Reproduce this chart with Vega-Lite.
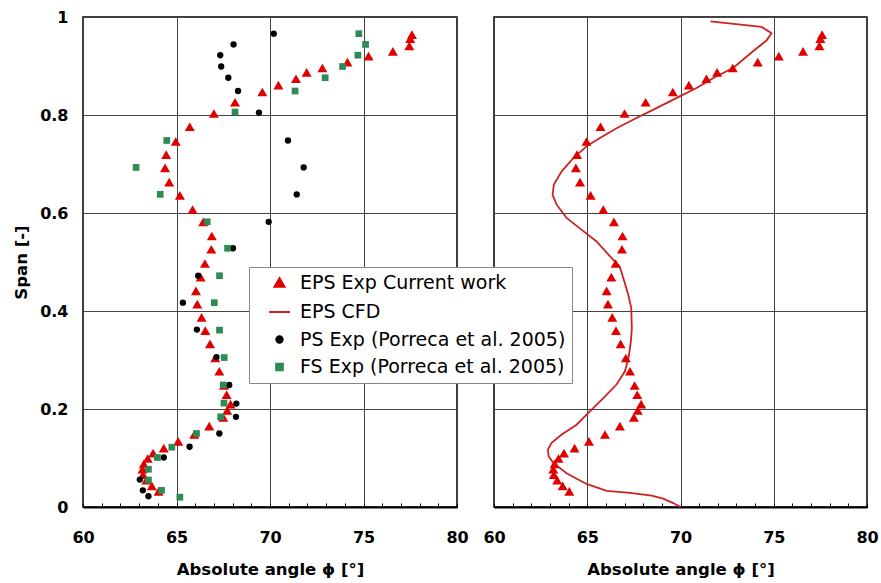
{
  "$schema": "https://vega.github.io/schema/vega-lite/v6.json",
  "background": "white",
  "padding": {"left": 12, "top": 8, "right": 5, "bottom": 5},
  "spacing": 37,
  "bounds": "flush",
  "datasets": {
    "pts": [
      {"series": "EPS Exp Current work", "angle": 77.59, "span": 0.964},
      {"series": "EPS Exp Current work", "angle": 77.5, "span": 0.956},
      {"series": "EPS Exp Current work", "angle": 77.45, "span": 0.941},
      {"series": "EPS Exp Current work", "angle": 76.57, "span": 0.930},
      {"series": "EPS Exp Current work", "angle": 75.27, "span": 0.920},
      {"series": "EPS Exp Current work", "angle": 74.14, "span": 0.908},
      {"series": "EPS Exp Current work", "angle": 72.8, "span": 0.896},
      {"series": "EPS Exp Current work", "angle": 71.96, "span": 0.887},
      {"series": "EPS Exp Current work", "angle": 71.39, "span": 0.874},
      {"series": "EPS Exp Current work", "angle": 70.45, "span": 0.861},
      {"series": "EPS Exp Current work", "angle": 69.59, "span": 0.847},
      {"series": "EPS Exp Current work", "angle": 68.13, "span": 0.826},
      {"series": "EPS Exp Current work", "angle": 67.0, "span": 0.803},
      {"series": "EPS Exp Current work", "angle": 65.71, "span": 0.776},
      {"series": "EPS Exp Current work", "angle": 64.96, "span": 0.746},
      {"series": "EPS Exp Current work", "angle": 64.45, "span": 0.719},
      {"series": "EPS Exp Current work", "angle": 64.39, "span": 0.692},
      {"series": "EPS Exp Current work", "angle": 64.61, "span": 0.663},
      {"series": "EPS Exp Current work", "angle": 65.18, "span": 0.636},
      {"series": "EPS Exp Current work", "angle": 65.86, "span": 0.607},
      {"series": "EPS Exp Current work", "angle": 66.43, "span": 0.582},
      {"series": "EPS Exp Current work", "angle": 66.89, "span": 0.553},
      {"series": "EPS Exp Current work", "angle": 66.86, "span": 0.526},
      {"series": "EPS Exp Current work", "angle": 66.52, "span": 0.497},
      {"series": "EPS Exp Current work", "angle": 66.29, "span": 0.469},
      {"series": "EPS Exp Current work", "angle": 66.04, "span": 0.441},
      {"series": "EPS Exp Current work", "angle": 66.11, "span": 0.414},
      {"series": "EPS Exp Current work", "angle": 66.34, "span": 0.387},
      {"series": "EPS Exp Current work", "angle": 66.54, "span": 0.360},
      {"series": "EPS Exp Current work", "angle": 66.79, "span": 0.333},
      {"series": "EPS Exp Current work", "angle": 67.07, "span": 0.304},
      {"series": "EPS Exp Current work", "angle": 67.29, "span": 0.277},
      {"series": "EPS Exp Current work", "angle": 67.54, "span": 0.248},
      {"series": "EPS Exp Current work", "angle": 67.68, "span": 0.229},
      {"series": "EPS Exp Current work", "angle": 67.89, "span": 0.210},
      {"series": "EPS Exp Current work", "angle": 67.71, "span": 0.197},
      {"series": "EPS Exp Current work", "angle": 67.5, "span": 0.183},
      {"series": "EPS Exp Current work", "angle": 66.75, "span": 0.165},
      {"series": "EPS Exp Current work", "angle": 65.95, "span": 0.148},
      {"series": "EPS Exp Current work", "angle": 65.09, "span": 0.134},
      {"series": "EPS Exp Current work", "angle": 64.32, "span": 0.120},
      {"series": "EPS Exp Current work", "angle": 63.75, "span": 0.110},
      {"series": "EPS Exp Current work", "angle": 63.46, "span": 0.099},
      {"series": "EPS Exp Current work", "angle": 63.25, "span": 0.088},
      {"series": "EPS Exp Current work", "angle": 63.18, "span": 0.077},
      {"series": "EPS Exp Current work", "angle": 63.21, "span": 0.066},
      {"series": "EPS Exp Current work", "angle": 63.39, "span": 0.055},
      {"series": "EPS Exp Current work", "angle": 63.68, "span": 0.043},
      {"series": "EPS Exp Current work", "angle": 64.04, "span": 0.032},
      {"series": "PS Exp (Porreca et al. 2005)", "angle": 70.2, "span": 0.966},
      {"series": "PS Exp (Porreca et al. 2005)", "angle": 68.05, "span": 0.944},
      {"series": "PS Exp (Porreca et al. 2005)", "angle": 67.34, "span": 0.922},
      {"series": "PS Exp (Porreca et al. 2005)", "angle": 67.39, "span": 0.899},
      {"series": "PS Exp (Porreca et al. 2005)", "angle": 67.77, "span": 0.876},
      {"series": "PS Exp (Porreca et al. 2005)", "angle": 68.29, "span": 0.849},
      {"series": "PS Exp (Porreca et al. 2005)", "angle": 69.41, "span": 0.805},
      {"series": "PS Exp (Porreca et al. 2005)", "angle": 70.96, "span": 0.748},
      {"series": "PS Exp (Porreca et al. 2005)", "angle": 71.8, "span": 0.693},
      {"series": "PS Exp (Porreca et al. 2005)", "angle": 71.43, "span": 0.638},
      {"series": "PS Exp (Porreca et al. 2005)", "angle": 69.93, "span": 0.582},
      {"series": "PS Exp (Porreca et al. 2005)", "angle": 68.02, "span": 0.528},
      {"series": "PS Exp (Porreca et al. 2005)", "angle": 66.16, "span": 0.472},
      {"series": "PS Exp (Porreca et al. 2005)", "angle": 65.34, "span": 0.417},
      {"series": "PS Exp (Porreca et al. 2005)", "angle": 66.09, "span": 0.362},
      {"series": "PS Exp (Porreca et al. 2005)", "angle": 67.14, "span": 0.306},
      {"series": "PS Exp (Porreca et al. 2005)", "angle": 67.82, "span": 0.249},
      {"series": "PS Exp (Porreca et al. 2005)", "angle": 68.2, "span": 0.211},
      {"series": "PS Exp (Porreca et al. 2005)", "angle": 68.18, "span": 0.184},
      {"series": "PS Exp (Porreca et al. 2005)", "angle": 67.29, "span": 0.150},
      {"series": "PS Exp (Porreca et al. 2005)", "angle": 65.7, "span": 0.123},
      {"series": "PS Exp (Porreca et al. 2005)", "angle": 64.32, "span": 0.101},
      {"series": "PS Exp (Porreca et al. 2005)", "angle": 63.04, "span": 0.056},
      {"series": "PS Exp (Porreca et al. 2005)", "angle": 63.2, "span": 0.034},
      {"series": "PS Exp (Porreca et al. 2005)", "angle": 63.5, "span": 0.022},
      {"series": "FS Exp (Porreca et al. 2005)", "angle": 74.75, "span": 0.966},
      {"series": "FS Exp (Porreca et al. 2005)", "angle": 75.11, "span": 0.944},
      {"series": "FS Exp (Porreca et al. 2005)", "angle": 74.7, "span": 0.922},
      {"series": "FS Exp (Porreca et al. 2005)", "angle": 73.88, "span": 0.899},
      {"series": "FS Exp (Porreca et al. 2005)", "angle": 72.95, "span": 0.876},
      {"series": "FS Exp (Porreca et al. 2005)", "angle": 71.34, "span": 0.849},
      {"series": "FS Exp (Porreca et al. 2005)", "angle": 68.13, "span": 0.806},
      {"series": "FS Exp (Porreca et al. 2005)", "angle": 64.48, "span": 0.748},
      {"series": "FS Exp (Porreca et al. 2005)", "angle": 62.84, "span": 0.693},
      {"series": "FS Exp (Porreca et al. 2005)", "angle": 64.13, "span": 0.638},
      {"series": "FS Exp (Porreca et al. 2005)", "angle": 66.64, "span": 0.582},
      {"series": "FS Exp (Porreca et al. 2005)", "angle": 67.73, "span": 0.528},
      {"series": "FS Exp (Porreca et al. 2005)", "angle": 67.3, "span": 0.472},
      {"series": "FS Exp (Porreca et al. 2005)", "angle": 67.02, "span": 0.417},
      {"series": "FS Exp (Porreca et al. 2005)", "angle": 67.3, "span": 0.361},
      {"series": "FS Exp (Porreca et al. 2005)", "angle": 67.55, "span": 0.305},
      {"series": "FS Exp (Porreca et al. 2005)", "angle": 67.5, "span": 0.249},
      {"series": "FS Exp (Porreca et al. 2005)", "angle": 67.54, "span": 0.212},
      {"series": "FS Exp (Porreca et al. 2005)", "angle": 67.36, "span": 0.184},
      {"series": "FS Exp (Porreca et al. 2005)", "angle": 66.07, "span": 0.150},
      {"series": "FS Exp (Porreca et al. 2005)", "angle": 64.75, "span": 0.122},
      {"series": "FS Exp (Porreca et al. 2005)", "angle": 63.98, "span": 0.101},
      {"series": "FS Exp (Porreca et al. 2005)", "angle": 63.5, "span": 0.077},
      {"series": "FS Exp (Porreca et al. 2005)", "angle": 63.5, "span": 0.055},
      {"series": "FS Exp (Porreca et al. 2005)", "angle": 64.2, "span": 0.034},
      {"series": "FS Exp (Porreca et al. 2005)", "angle": 65.18, "span": 0.020}
    ],
    "cfd": [
      {"series": "EPS CFD", "angle": 71.61, "span": 0.991},
      {"series": "EPS CFD", "angle": 74.34, "span": 0.980},
      {"series": "EPS CFD", "angle": 74.88, "span": 0.967},
      {"series": "EPS CFD", "angle": 74.61, "span": 0.952},
      {"series": "EPS CFD", "angle": 73.89, "span": 0.930},
      {"series": "EPS CFD", "angle": 72.82, "span": 0.896},
      {"series": "EPS CFD", "angle": 71.93, "span": 0.879},
      {"series": "EPS CFD", "angle": 70.86, "span": 0.855},
      {"series": "EPS CFD", "angle": 69.96, "span": 0.838},
      {"series": "EPS CFD", "angle": 68.71, "span": 0.814},
      {"series": "EPS CFD", "angle": 67.64, "span": 0.794},
      {"series": "EPS CFD", "angle": 66.57, "span": 0.773},
      {"series": "EPS CFD", "angle": 65.68, "span": 0.753},
      {"series": "EPS CFD", "angle": 64.96, "span": 0.736},
      {"series": "EPS CFD", "angle": 64.25, "span": 0.712},
      {"series": "EPS CFD", "angle": 63.63, "span": 0.685},
      {"series": "EPS CFD", "angle": 63.21, "span": 0.658},
      {"series": "EPS CFD", "angle": 63.14, "span": 0.637},
      {"series": "EPS CFD", "angle": 63.36, "span": 0.617},
      {"series": "EPS CFD", "angle": 63.89, "span": 0.590},
      {"series": "EPS CFD", "angle": 64.79, "span": 0.563},
      {"series": "EPS CFD", "angle": 65.5, "span": 0.542},
      {"series": "EPS CFD", "angle": 66.21, "span": 0.512},
      {"series": "EPS CFD", "angle": 66.75, "span": 0.490},
      {"series": "EPS CFD", "angle": 66.98, "span": 0.461},
      {"series": "EPS CFD", "angle": 67.2, "span": 0.433},
      {"series": "EPS CFD", "angle": 67.36, "span": 0.406},
      {"series": "EPS CFD", "angle": 67.39, "span": 0.365},
      {"series": "EPS CFD", "angle": 67.34, "span": 0.338},
      {"series": "EPS CFD", "angle": 67.21, "span": 0.304},
      {"series": "EPS CFD", "angle": 67.02, "span": 0.277},
      {"series": "EPS CFD", "angle": 66.57, "span": 0.250},
      {"series": "EPS CFD", "angle": 65.86, "span": 0.222},
      {"series": "EPS CFD", "angle": 65.14, "span": 0.195},
      {"series": "EPS CFD", "angle": 64.43, "span": 0.168},
      {"series": "EPS CFD", "angle": 63.63, "span": 0.148},
      {"series": "EPS CFD", "angle": 63.09, "span": 0.131},
      {"series": "EPS CFD", "angle": 62.89, "span": 0.117},
      {"series": "EPS CFD", "angle": 62.93, "span": 0.103},
      {"series": "EPS CFD", "angle": 63.18, "span": 0.090},
      {"series": "EPS CFD", "angle": 63.89, "span": 0.069},
      {"series": "EPS CFD", "angle": 64.96, "span": 0.047},
      {"series": "EPS CFD", "angle": 66.04, "span": 0.033},
      {"series": "EPS CFD", "angle": 67.29, "span": 0.029},
      {"series": "EPS CFD", "angle": 68.45, "span": 0.023},
      {"series": "EPS CFD", "angle": 69.07, "span": 0.017},
      {"series": "EPS CFD", "angle": 69.61, "span": 0.008},
      {"series": "EPS CFD", "angle": 70.0, "span": 0.0}
    ]
  },
  "hconcat": [
    {
      "width": 374,
      "height": 490,
      "data": {"name": "pts"},
      "mark": {"type": "point", "filled": true, "opacity": 1},
      "encoding": {
        "x": {
          "field": "angle", "type": "quantitative",
          "scale": {"domain": [60, 80], "nice": false, "zero": false},
          "axis": {
            "title": "Absolute angle ϕ [°]",
            "values": [60,61,62,63,64,65,66,67,68,69,70,71,72,73,74,75,76,77,78,79,80],
            "tickSize": -4,
            "labelExpr": "datum.value % 5 === 0 ? datum.label : ''",
            "labelOverlap": false,
            "labelFlush": false,
            "labelPadding": 26,
            "titlePadding": 16,
            "grid": true,
            "gridOpacity": {"condition": {"test": "datum.value % 5 === 0 && datum.value > 60 && datum.value < 80", "value": 1}, "value": 0},
            "domainWidth": 2
          }
        },
        "y": {
          "field": "span", "type": "quantitative",
          "scale": {"domain": [0, 1], "nice": false},
          "axis": {
            "title": "Span [-]",
            "values": [0, 0.2, 0.4, 0.6, 0.8, 1],
            "format": "~g",
            "ticks": false,
            "domain": false,
            "labelPadding": 15,
            "titlePadding": 10,
            "grid": true
          }
        },
        "color": {
          "field": "series", "type": "nominal", "title": null,
          "scale": {"domain": ["EPS Exp Current work", "EPS CFD", "PS Exp (Porreca et al. 2005)", "FS Exp (Porreca et al. 2005)"], "range": ["#e00000", "#cc2222", "#000000", "#2e8b57"]},
          "legend": {"encode": {"symbols": {"update": {"stroke": {"scale": "color", "field": "value"}, "strokeWidth": {"value": 2}}}}}
        },
        "shape": {
          "field": "series", "type": "nominal", "title": null,
          "scale": {"domain": ["EPS Exp Current work", "EPS CFD", "PS Exp (Porreca et al. 2005)", "FS Exp (Porreca et al. 2005)"], "range": ["triangle-up", "stroke", "circle", "square"]}
        },
        "size": {
          "field": "series", "type": "nominal", "title": null,
          "scale": {"type": "ordinal", "domain": ["EPS Exp Current work", "EPS CFD", "PS Exp (Porreca et al. 2005)", "FS Exp (Porreca et al. 2005)"], "range": [100, 441, 40, 45]}
        }
      }
    },
    {
      "width": 373,
      "height": 490,
      "encoding": {
        "x": {
          "field": "angle", "type": "quantitative",
          "scale": {"domain": [60, 80], "nice": false, "zero": false},
          "axis": {
            "title": "Absolute angle ϕ [°]",
            "values": [60,61,62,63,64,65,66,67,68,69,70,71,72,73,74,75,76,77,78,79,80],
            "tickSize": -4,
            "labelExpr": "datum.value % 5 === 0 ? datum.label : ''",
            "labelOverlap": false,
            "labelFlush": false,
            "labelPadding": 26,
            "titlePadding": 16,
            "grid": true,
            "gridOpacity": {"condition": {"test": "datum.value % 5 === 0 && datum.value > 60 && datum.value < 80", "value": 1}, "value": 0},
            "domainWidth": 2
          }
        },
        "y": {
          "field": "span", "type": "quantitative",
          "scale": {"domain": [0, 1], "nice": false},
          "axis": {
            "title": null,
            "values": [0, 0.2, 0.4, 0.6, 0.8, 1],
            "labels": false,
            "ticks": false,
            "domain": false,
            "grid": true
          }
        }
      },
      "layer": [
        {
          "data": {"name": "cfd"},
          "mark": {"type": "line", "strokeWidth": 1.8},
          "encoding": {
            "order": {"field": "span", "type": "quantitative"},
            "color": {
              "field": "series", "type": "nominal", "title": null,
              "scale": {"domain": ["EPS Exp Current work", "EPS CFD", "PS Exp (Porreca et al. 2005)", "FS Exp (Porreca et al. 2005)"], "range": ["#e00000", "#cc2222", "#000000", "#2e8b57"]},
              "legend": {"encode": {"symbols": {"update": {"stroke": {"scale": "color", "field": "value"}, "strokeWidth": {"value": 2}}}}}
            }
          }
        },
        {
          "data": {"name": "pts"},
          "transform": [{"filter": "datum.series === 'EPS Exp Current work'"}],
          "mark": {"type": "point", "filled": true, "opacity": 1},
          "encoding": {
            "color": {
              "field": "series", "type": "nominal", "title": null,
              "scale": {"domain": ["EPS Exp Current work", "EPS CFD", "PS Exp (Porreca et al. 2005)", "FS Exp (Porreca et al. 2005)"], "range": ["#e00000", "#cc2222", "#000000", "#2e8b57"]},
              "legend": {"encode": {"symbols": {"update": {"stroke": {"scale": "color", "field": "value"}, "strokeWidth": {"value": 2}}}}}
            },
            "shape": {
              "field": "series", "type": "nominal", "title": null,
              "scale": {"domain": ["EPS Exp Current work", "EPS CFD", "PS Exp (Porreca et al. 2005)", "FS Exp (Porreca et al. 2005)"], "range": ["triangle-up", "stroke", "circle", "square"]}
            },
            "size": {
              "field": "series", "type": "nominal", "title": null,
              "scale": {"type": "ordinal", "domain": ["EPS Exp Current work", "EPS CFD", "PS Exp (Porreca et al. 2005)", "FS Exp (Porreca et al. 2005)"], "range": [100, 441, 40, 45]}
            }
          }
        }
      ]
    }
  ],
  "config": {
    "view": {"stroke": "#000", "strokeWidth": 1.5},
    "axis": {
      "labelFont": "DejaVu Sans", "labelFontSize": 16, "labelFontWeight": "bold", "labelColor": "#000",
      "titleFont": "DejaVu Sans", "titleFontSize": 16.5, "titleFontWeight": "bold", "titleColor": "#000",
      "gridColor": "#444", "gridWidth": 1, "tickColor": "#000", "domainColor": "#000"
    },
    "axisY": {"labelBaseline": "middle"},
    "legend": {
      "orient": "none", "legendX": 166, "legendY": 250,
      "strokeColor": "#888", "fillColor": "#ffffff", "padding": 6,
      "labelFont": "DejaVu Sans", "labelFontSize": 19, "labelColor": "#000",
      "rowPadding": 7.5, "symbolOffset": 13, "labelOffset": 9, "labelLimit": 400
    }
  }
}
